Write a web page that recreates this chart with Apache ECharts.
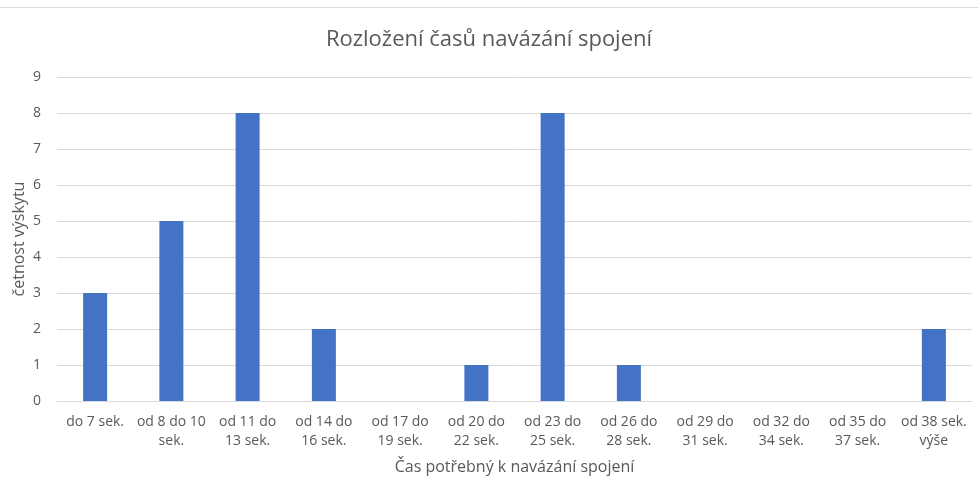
<!DOCTYPE html>
<html>
<head>
<meta charset="utf-8">
<script src="https://cdn.jsdelivr.net/npm/echarts@6/dist/echarts.min.js"></script>
<style>
  html, body { margin: 0; padding: 0; background: #fff; }
  .chart-box { position: relative; width: 978px; height: 480px; }
  .chart-box .top-line { position: absolute; left: 0; right: 0; top: 7px; border-top: 1px solid #d9d9d9; }
  #main { width: 978px; height: 480px; }
</style>
</head>
<body>
<div class="chart-box">
  <div class="top-line"></div>
  <div id="main"></div>
</div>
<script>
// kategorie (intervaly) a četnosti
var categories = [
  "do 7 sek.", "od 8 do 10\nsek.", "od 11 do\n13 sek.", "od 14 do\n16 sek.",
  "od 17 do\n19 sek.", "od 20 do\n22 sek.", "od 23 do\n25 sek.", "od 26 do\n28 sek.",
  "od 29 do\n31 sek.", "od 32 do\n34 sek.", "od 35 do\n37 sek.", "od 38 sek.\nvýše"
];
var counts = [3, 5, 8, 2, 0, 1, 8, 1, 0, 0, 0, 2];

var textColor = "#595959";
var font = "Open Sans";

var myChart = echarts.init(document.getElementById("main"));
myChart.setOption({
  animation: false,
  textStyle: { fontFamily: font },
  title: {
    text: "Rozložení časů navázání spojení",
    left: "center",
    top: 24,
    textStyle: { fontSize: 22, fontWeight: "normal", color: textColor, fontFamily: font }
  },
  grid: { left: 57, right: 6, top: 77, bottom: 79, outerBoundsMode: "none" },
  xAxis: {
    type: "category",
    data: categories,
    name: "Čas potřebný k navázání spojení",
    nameLocation: "middle",
    nameGap: 58,
    nameTextStyle: { fontSize: 16, color: textColor },
    axisLine: { lineStyle: { color: "#d9d9d9" } },
    axisTick: { show: false },
    axisLabel: { interval: 0, fontSize: 14, color: textColor, lineHeight: 19, margin: 12 }
  },
  yAxis: {
    type: "value",
    min: 0,
    max: 9,
    interval: 1,
    name: "četnost výskytu",
    nameLocation: "middle",
    nameGap: 30,
    nameMoveOverlap: false,
    nameTextStyle: { fontSize: 16, color: textColor },
    axisLabel: { fontSize: 14, color: textColor, margin: 16 },
    splitLine: { lineStyle: { color: "#d9d9d9" } }
  },
  series: [
    {
      type: "bar",
      data: counts,
      barWidth: 24,
      itemStyle: { color: "#4472c4" }
    }
  ]
});
</script>
</body>
</html>
